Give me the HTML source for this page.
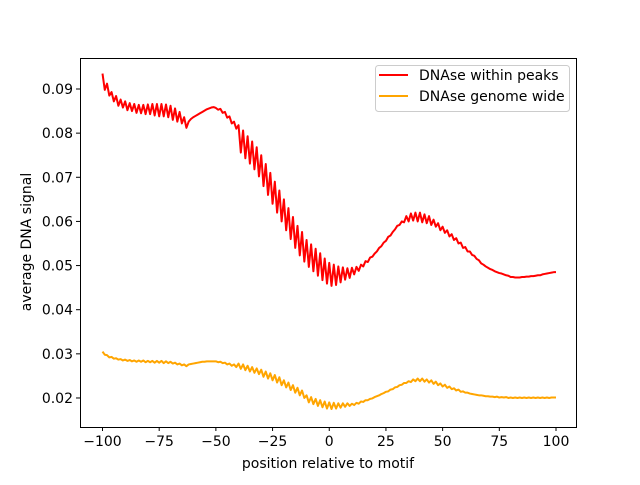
<!DOCTYPE html>
<html><head><meta charset="utf-8"><style>
body{margin:0;background:#fff}
svg text{font-family:"DejaVu Sans","Liberation Sans",sans-serif;font-size:14px;fill:#000}
</style></head><body>
<svg id="chart" width="640" height="480" xmlns="http://www.w3.org/2000/svg">
<rect width="640" height="480" fill="#fff"/>
<g id="plot"></g>
<rect x="80.5" y="58.5" width="496" height="369" fill="none" stroke="#000" stroke-width="1"/>
<g id="ticks"></g>
<text x="328" y="468" text-anchor="middle">position relative to motif</text>
<text transform="translate(31,242) rotate(-90)" text-anchor="middle">average DNA signal</text>
<g>
<rect x="375.5" y="65.5" width="194" height="46" rx="3" fill="#fff" stroke="#ccc"/>
<g>
<line x1="379" y1="75" x2="408" y2="75" stroke="#ff0000" stroke-width="2"/>
<text x="419" y="80">DNAse within peaks</text></g>
<g>
<line x1="379" y1="96" x2="408" y2="96" stroke="#ffa500" stroke-width="2"/>
<text x="419" y="101">DNAse genome wide</text></g>
</g>
</svg>
<script>
const positions=[];for(let i=-100;i<=100;i++)positions.push(i);
const peaksSignal=[935,898,912,885,893,872,884,862,876,858,
872,852,868,850,866,846,864,845,864,843,
865,843,866,840,866,838,866,838,865,836,
862,830,856,826,848,822,836,812,826,832,
836,839,842,845,848,851,854,856,858,859,
857,853,855,846,848,835,838,822,826,810,
818,756,806,743,793,731,781,718,768,702,
750,680,730,660,710,640,690,620,670,600,
650,580,630,560,610,540,590,523,576,509,
558,497,548,487,538,477,528,467,516,459,
506,454,502,456,498,462,496,468,494,472,
495,480,497,488,502,498,510,508,518,520,
527,532,540,544,552,556,565,568,576,582,
590,592,600,598,612,600,618,602,620,600,
620,598,616,596,612,592,604,588,596,580,
588,574,580,566,571,558,562,550,552,540,
542,532,532,524,522,515,512,505,502,498,
495,492,490,487,485,483,482,480,478,477,
474,474,473,473,473,474,474,475,475,476,
476,477,478,478,480,481,482,483,484,485,485];
const genomeSignal=[305,298,297,292,293,289,290,287,288,285,
287,284,286,283,285,282,285,282,285,281,
284,281,284,280,284,280,284,279,283,279,
282,278,280,276,278,274,276,272,276,277,
278,279,280,281,282,282,283,283,283,283,
283,281,282,279,280,276,278,273,276,270,
278,266,276,263,273,260,270,257,267,254,
264,248,260,244,256,240,252,235,247,229,
240,224,235,218,229,212,223,206,217,200,
206,190,202,186,198,182,195,179,192,176,
190,175,189,176,188,178,188,180,188,182,
187,184,189,187,192,191,195,195,198,199,
202,204,206,209,211,214,215,219,220,224,
225,229,230,234,234,238,236,242,238,244,
238,244,237,242,235,240,232,237,229,233,
226,230,223,226,220,222,217,219,214,215,
212,212,210,209,208,207,206,206,205,204,
204,203,203,202,203,201,202,201,202,200,
201,200,201,200,201,200,201,200,201,200,
201,200,201,200,201,200,201,200,201,201,201];
const xTicks=[-100,-75,-50,-25,0,25,50,75,100];
const yTicks=[0.02,0.03,0.04,0.05,0.06,0.07,0.08,0.09];
const yTickLabels=["0.02","0.03","0.04","0.05","0.06","0.07","0.08","0.09"];
const SCALE=1e-4;
function xs(v){return 329.25+v*2.2675;}
function ys(v){return 89-(v-0.09)*4414;}
const NS="http://www.w3.org/2000/svg";
const plot=document.getElementById('plot'),tk=document.getElementById('ticks');
function line(arr,color,name){
  const p=document.createElementNS(NS,'polyline');
  p.setAttribute('points',arr.map((v,i)=>xs(positions[i]).toFixed(2)+','+ys(v*SCALE).toFixed(2)).join(' '));
  p.setAttribute('fill','none');p.setAttribute('stroke',color);p.setAttribute('stroke-width','2');
  p.setAttribute('stroke-linejoin','round');
  
  
  plot.appendChild(p);
}
line(peaksSignal,'#ff0000','series-within-peaks');
line(genomeSignal,'#ffa500','series-genome-wide');
xTicks.forEach(t=>{
  const g=document.createElementNS(NS,'g');
  
  
  const x=xs(t);
  g.innerHTML='<line x1="'+x+'" y1="427" x2="'+x+'" y2="431" stroke="#000"/><text x="'+x+'" y="446" text-anchor="middle">'+(t<0?'\u2212'+(-t):t)+'</text>';
  tk.appendChild(g);
});
yTicks.forEach((t,i)=>{
  const g=document.createElementNS(NS,'g');
  
  
  const y=ys(t);
  g.innerHTML='<line x1="76" y1="'+y+'" x2="80" y2="'+y+'" stroke="#000"/><text x="73" y="'+(y+5)+'" text-anchor="end">'+yTickLabels[i]+'</text>';
  tk.appendChild(g);
});
</script>
</body></html>
